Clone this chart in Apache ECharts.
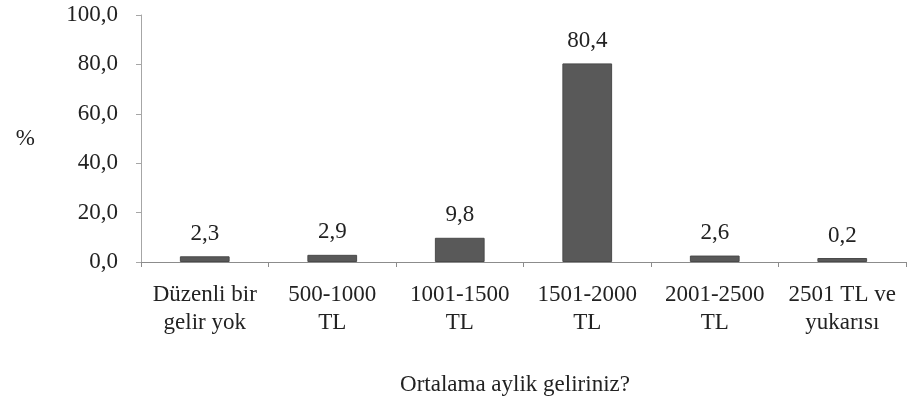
<!DOCTYPE html>
<html>
<head>
<meta charset="utf-8">
<script src="https://cdn.jsdelivr.net/npm/echarts@6/dist/echarts.min.js"></script>
<style>
  html, body { margin: 0; padding: 0; background: #fff; }
  #chart { width: 908px; height: 401px; }
</style>
</head>
<body>
<div id="chart"></div>
<script>
// Income brackets and share of respondents (%)
const categories = ['Düzenli bir\ngelir yok', '500-1000\nTL', '1001-1500\nTL', '1501-2000\nTL', '2001-2500\nTL', '2501 TL ve\nyukarısı'];
const shares = [2.3, 2.9, 9.8, 80.4, 2.6, 0.2];
const yTicks = { min: 0, max: 100, interval: 20 };
const xTitle = 'Ortalama aylik geliriniz?';
const yTitle = '%';

const FONT = '"Liberation Serif", "Times New Roman", serif';
const TEXT = '#222222';
const SIZE = 23;
const comma = v => v.toFixed(1).replace('.', ',');

const chart = echarts.init(document.getElementById('chart'), null, { renderer: 'canvas' });
chart.setOption({
  animation: false,
  backgroundColor: '#fff',
  textStyle: { fontFamily: FONT, color: TEXT },
  grid: { left: 141, right: 2, top: 15, bottom: 139 },
  xAxis: {
    type: 'category',
    data: categories,
    name: xTitle,
    nameLocation: 'middle',
    nameGap: 111,
    nameTextStyle: { fontFamily: FONT, fontSize: SIZE, color: TEXT, padding: [0, 17, 0, 0] },
    axisLine: { lineStyle: { color: '#8c8c8c', width: 1 } },
    axisTick: { show: true, alignWithLabel: false, length: 5, lineStyle: { color: '#8c8c8c' } },
    axisLabel: { interval: 0, margin: 19, fontFamily: FONT, fontSize: SIZE, lineHeight: 28, color: TEXT }
  },
  yAxis: {
    type: 'value',
    min: yTicks.min,
    max: yTicks.max,
    interval: yTicks.interval,
    name: yTitle,
    nameLocation: 'middle',
    nameRotate: 0,
    nameGap: 106,
    nameTextStyle: { fontFamily: FONT, fontSize: SIZE, color: TEXT },
    splitLine: { show: false },
    axisLine: { show: true, lineStyle: { color: '#a6a6a6', width: 1 } },
    axisTick: { show: true, length: 5, lineStyle: { color: '#a6a6a6' } },
    axisLabel: { margin: 23, fontFamily: FONT, fontSize: SIZE, color: TEXT, formatter: comma }
  },
  series: [{
    type: 'bar',
    data: shares,
    barWidth: '39%',
    barMinHeight: 4,
    itemStyle: { color: '#595959', borderColor: '#4a4a4a', borderWidth: 1 },
    label: {
      show: true,
      position: 'top',
      distance: 11,
      fontFamily: FONT,
      fontSize: SIZE,
      color: TEXT,
      formatter: p => comma(p.value)
    }
  }]
});
</script>
</body>
</html>
